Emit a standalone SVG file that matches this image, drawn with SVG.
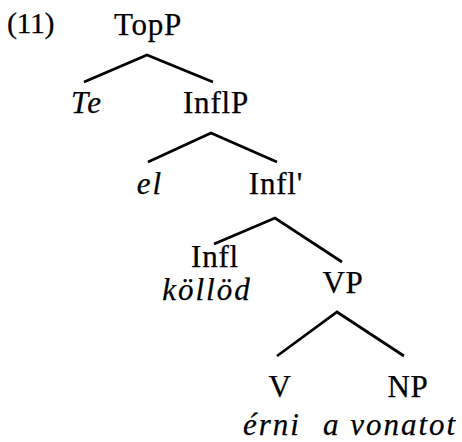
<svg xmlns="http://www.w3.org/2000/svg" width="462" height="442" viewBox="0 0 462 442">
<style>
text{font-family:'Liberation Serif','DejaVu Serif',serif;font-size:31px;fill:#000;stroke:#000;stroke-width:0.25;text-anchor:middle;letter-spacing:0.8px}
.it{font-style:italic;letter-spacing:2px}
.edge{stroke:#000;stroke-width:2.7;fill:none;stroke-linecap:butt}
</style>
<rect width="462" height="442" fill="#fff"/>
<g font-family="Liberation Serif, DejaVu Serif, serif">
<text x="7" y="33" style="text-anchor:start;font-size:30px;letter-spacing:-0.5px">(11)</text>
<g id="edges">
<path class="edge" d="M84 82L147 55L213 82"/>
<path class="edge" d="M148 162L211 133L277 162"/>
<path class="edge" d="M214 244L275 218L342 262"/>
<path class="edge" d="M277 356L337 312L404 356"/>
</g>
<g id="TopP"><text x="148" y="35">TopP</text></g>
<g id="Te"><text class="it" x="87" y="113">Te</text></g>
<g id="InflP"><text x="216" y="113">InflP</text></g>
<g id="el"><text class="it" x="150" y="194">el</text></g>
<g id="InflBar"><text x="276" y="194">Infl'</text></g>
<g id="Infl"><text x="215" y="267">Infl</text><text class="it" x="207" y="300">köllöd</text></g>
<g id="VP"><text x="343" y="293">VP</text></g>
<g id="V"><text x="280" y="397">V</text><text class="it" x="272" y="435">érni</text></g>
<g id="NP"><text x="408" y="397">NP</text><text class="it" x="390" y="435">a vonatot</text></g>
</g>
</svg>
